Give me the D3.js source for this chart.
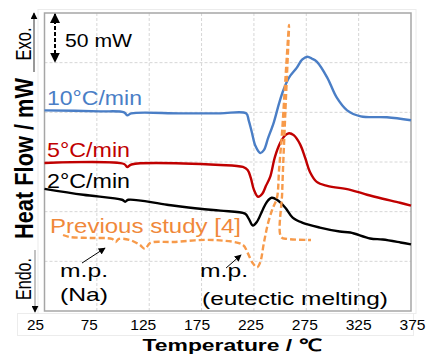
<!DOCTYPE html>
<html>
<head>
<meta charset="utf-8">
<script src="https://cdn.jsdelivr.net/npm/d3@7"></script>
<style>
  html, body { margin: 0; padding: 0; background: #fff; }
  svg text { font-family: 'Liberation Sans', Arial, sans-serif; }
</style>
</head>
<body>
<div id="chart"></div>
<script>
// temperature (°C) / heat flow (mW, arbitrary offset)
const rate10T = [25, 78, 101, 104, 108, 154, 193, 217.5, 220, 223, 226.5, 231, 234.5, 238.5, 244, 249, 253, 258.5, 266, 271, 276, 280.5, 285, 295, 304, 314, 327, 352, 375];
const rate10Q = [202, 201, 200, 197, 199, 199, 199, 199, 192, 180, 166, 159, 162, 174, 190, 209, 222, 235, 245, 253, 256, 254, 251, 235, 215, 202, 196, 195, 192];

const rate5T = [25, 101, 104, 108, 193, 214.5, 219, 222, 225, 229, 233, 236.5, 240.5, 245, 250, 255, 258.5, 263, 269, 274, 278.5, 285, 295, 317, 333, 348, 364.5, 375];
const rate5Q = [149, 148, 145, 147.5, 147, 145, 142, 134, 122, 115, 118, 126, 135, 155, 169, 177, 179, 177, 168, 154, 140, 130, 126, 122, 117, 113, 109, 106];

const rate2T = [25, 62, 99, 102, 105, 142, 173.5, 193, 216.5, 220, 224, 228, 233, 237.5, 242, 247, 255, 262, 271, 288, 307, 317, 336, 348, 365, 375];
const rate2Q = [123, 117, 112, 110, 112, 107, 103, 101, 98, 93, 86, 90, 101, 110, 114, 112, 104, 94, 89, 84, 80, 79, 73, 72, 69, 67];

const prevT = [42.7, 49, 68.5, 89.5, 93, 96, 106.5, 116, 121, 126, 148, 186, 214.5, 219, 224, 228, 231, 234.5, 238.5, 243, 247, 249, 252, 255, 258.5, 255, 252, 251, 257, 279.5];
const prevQ = [76.5, 74.5, 73.5, 72.5, 69.5, 72.5, 71.5, 66.5, 62.5, 68.5, 69.5, 71.5, 66.5, 58.5, 48, 44, 49, 68.5, 88.5, 103.5, 114, 142, 182, 232.5, 288, 200, 120, 74.5, 72.5, 71.5];

const xTicks = [25, 75, 125, 175, 225, 275, 325, 375];
const xGrid = [75, 125, 175, 225, 275, 325];
const yGrid = [50, 100, 150, 200, 250];

const series = [
  { name: '10°C/min', t: rate10T, q: rate10Q, color: '#4a7ec6', dash: null },
  { name: '5°C/min', t: rate5T, q: rate5Q, color: '#c00000', dash: null },
  { name: '2°C/min', t: rate2T, q: rate2Q, color: '#000000', dash: null },
  { name: 'Previous study [4]', t: prevT, q: prevQ, color: '#f79a4a', dash: '6,3' }
];

const W = 428, H = 354;
const plot = { left: 44.5, right: 411, top: 13, bottom: 311 };

const svg = d3.select('#chart').append('svg').attr('width', W).attr('height', H);

const x = d3.scaleLinear().domain([25, 375]).range([plot.left, plot.right]);
const xLab = d3.scaleLinear().domain([25, 375]).range([35, 412]);
const y = d3.scaleLinear().domain([0, 300]).range([plot.bottom, plot.top]);

// faint picture frames
svg.append('rect').attr('x', 38).attr('y', 9.5).attr('width', 378).attr('height', 304)
  .attr('fill', 'none').attr('stroke', '#ececec').attr('stroke-width', 1);
svg.append('rect').attr('x', 17.5).attr('y', 313.5).attr('width', 396).attr('height', 22)
  .attr('fill', 'none').attr('stroke', '#ececec').attr('stroke-width', 1);

// grid
svg.append('g').selectAll('line').data(xGrid).join('line')
  .attr('x1', d => x(d)).attr('x2', d => x(d))
  .attr('y1', plot.top).attr('y2', plot.bottom)
  .attr('stroke', '#d6d6d6').attr('stroke-dasharray', '3,2').attr('stroke-width', 1);
svg.append('g').selectAll('line').data(yGrid).join('line')
  .attr('x1', plot.left).attr('x2', plot.right)
  .attr('y1', d => y(d)).attr('y2', d => y(d))
  .attr('stroke', '#d6d6d6').attr('stroke-dasharray', '3,2').attr('stroke-width', 1);

// frame
svg.append('rect')
  .attr('x', plot.left).attr('y', plot.top)
  .attr('width', plot.right - plot.left).attr('height', plot.bottom - plot.top)
  .attr('fill', 'none').attr('stroke', '#a6a6a6').attr('stroke-width', 1.5);

// tick labels
svg.append('g')
  .attr('transform', 'translate(0,' + (plot.bottom + 6) + ')')
  .call(d3.axisBottom(xLab).tickValues(xTicks).tickSize(0).tickFormat(d3.format('d')))
  .call(g => g.select('.domain').remove())
  .selectAll('text')
  .attr('fill', '#000')
  .style('font-size', '14px')
  .attr('textLength', 26).attr('lengthAdjust', 'spacingAndGlyphs');
svg.selectAll('.tick text').filter(d => d === 25).attr('textLength', 17);
svg.selectAll('.tick text').filter(d => d === 75).attr('textLength', 17);

// curves
const line = d3.line().x(d => x(d[0])).y(d => y(d[1])).curve(d3.curveCatmullRom.alpha(0.5));
svg.append('g').selectAll('path').data(series).join('path')
  .attr('d', s => line(s.t.map((t, i) => [t, s.q[i]])))
  .attr('fill', 'none')
  .attr('stroke', s => s.color)
  .attr('stroke-width', 2.4)
  .attr('stroke-dasharray', s => s.dash)
  .attr('stroke-linejoin', 'round');

// series labels
const labels = [
  { text: '10°C/min', x: 47, y: 105, len: 95, color: '#4a7ec6', size: 21 },
  { text: '5°C/min', x: 47, y: 157, len: 83, color: '#c00000', size: 21 },
  { text: '2°C/min', x: 47, y: 188, len: 83, color: '#000', size: 21 },
  { text: 'Previous study [4]', x: 50, y: 233, len: 191, color: '#f0883a', size: 20 },
  { text: 'm.p.', x: 60, y: 277, len: 48, color: '#000', size: 19 },
  { text: '(Na)', x: 60, y: 301, len: 48, color: '#000', size: 19 },
  { text: 'm.p.', x: 200, y: 277, len: 48, color: '#000', size: 19 },
  { text: '(eutectic melting)', x: 202, y: 305, len: 186, color: '#000', size: 19 },
  { text: '50 mW', x: 65, y: 47, len: 67, color: '#000', size: 18 }
];
svg.append('g').selectAll('text').data(labels).join('text')
  .attr('x', d => d.x).attr('y', d => d.y)
  .attr('fill', d => d.color)
  .style('font-size', d => d.size + 'px')
  .attr('textLength', d => d.len).attr('lengthAdjust', 'spacingAndGlyphs')
  .text(d => d.text);

// arrowheads
const defs = svg.append('defs');
defs.append('marker').attr('id', 'head').attr('viewBox', '0 0 10 10')
  .attr('refX', 9).attr('refY', 5).attr('markerWidth', 7).attr('markerHeight', 7)
  .attr('markerUnits', 'userSpaceOnUse').attr('orient', 'auto')
  .append('path').attr('d', 'M0,0 L10,5 L0,10 z').attr('fill', '#000');
defs.append('marker').attr('id', 'headBig').attr('viewBox', '0 0 10 10')
  .attr('refX', 9).attr('refY', 5).attr('markerWidth', 10).attr('markerHeight', 10)
  .attr('markerUnits', 'userSpaceOnUse').attr('orient', 'auto-start-reverse')
  .append('path').attr('d', 'M0,0 L10,5 L0,10 z').attr('fill', '#000');

// m.p. pointers
const pointers = [
  { from: [60.8, 48.3], to: [82.8, 63.4] },
  { from: [198.4, 43.3], to: [212.7, 56.4] }
];
svg.append('g').selectAll('line').data(pointers).join('line')
  .attr('x1', d => x(d.from[0])).attr('y1', d => y(d.from[1]))
  .attr('x2', d => x(d.to[0])).attr('y2', d => y(d.to[1]))
  .attr('stroke', '#000').attr('stroke-width', 1)
  .attr('marker-end', 'url(#head)');

// 50 mW scale bar
svg.append('line')
  .attr('x1', 55).attr('x2', 55)
  .attr('y1', y(300) + 1).attr('y2', y(250) - 1)
  .attr('stroke', '#000').attr('stroke-width', 2).attr('stroke-dasharray', '4,2')
  .attr('marker-start', 'url(#headBig)').attr('marker-end', 'url(#headBig)');

// Exo / Endo arrows
svg.append('line').attr('x1', 34).attr('x2', 34).attr('y1', 72).attr('y2', 13)
  .attr('stroke', '#555').attr('stroke-width', 1.2).attr('marker-end', 'url(#head)');
svg.append('line').attr('x1', 35).attr('x2', 35).attr('y1', 250).attr('y2', 312)
  .attr('stroke', '#999').attr('stroke-width', 1.2).attr('marker-end', 'url(#head)');

svg.append('text')
  .attr('transform', 'translate(31,44) rotate(-90)')
  .attr('text-anchor', 'middle')
  .style('font-size', '22px')
  .attr('textLength', 33).attr('lengthAdjust', 'spacingAndGlyphs')
  .text('Exo.');
svg.append('text')
  .attr('transform', 'translate(31,279) rotate(-90)')
  .attr('text-anchor', 'middle')
  .style('font-size', '22px')
  .attr('textLength', 42).attr('lengthAdjust', 'spacingAndGlyphs')
  .text('Endo.');

// axis titles
svg.append('text')
  .attr('transform', 'translate(33,158.5) rotate(-90)')
  .attr('text-anchor', 'middle')
  .style('font-size', '25px').style('font-weight', 'bold')
  .attr('textLength', 161).attr('lengthAdjust', 'spacingAndGlyphs')
  .text('Heat Flow / mW');
svg.append('text')
  .attr('x', 232).attr('y', 351)
  .attr('text-anchor', 'middle')
  .style('font-size', '17px').style('font-weight', 'bold')
  .attr('textLength', 179).attr('lengthAdjust', 'spacingAndGlyphs')
  .text('Temperature / ℃');
</script>
</body>
</html>
